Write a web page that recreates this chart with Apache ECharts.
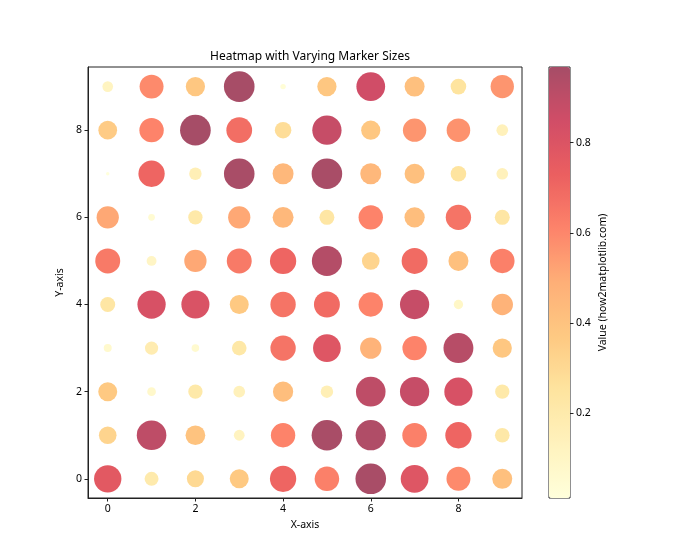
<!DOCTYPE html>
<html>
<head>
<meta charset="utf-8">
<script src="https://cdn.jsdelivr.net/npm/echarts@6/dist/echarts.min.js"></script>
<style>html,body{margin:0;padding:0;background:#fff}#c{width:700px;height:560px}</style>
</head>
<body>
<div id="c"></div>
<script>
// Grid columns (x) and rows (y)
const xCats = [0,1,2,3,4,5,6,7,8,9];
const yCats = [0,1,2,3,4,5,6,7,8,9];
// values by row (y = 0 .. 9), each row listed for x = 0 .. 9
const row0 = [0.77,0.20,0.30,0.37,0.71,0.62,0.96,0.79,0.59,0.41];
const row1 = [0.32,0.90,0.40,0.12,0.61,0.96,0.94,0.62,0.71,0.22];
const row2 = [0.37,0.077,0.21,0.14,0.42,0.16,0.90,0.88,0.82,0.21];
const row3 = [0.066,0.18,0.06,0.22,0.66,0.79,0.47,0.61,0.92,0.38];
const row4 = [0.23,0.82,0.81,0.37,0.66,0.69,0.61,0.88,0.09,0.47];
const row5 = [0.64,0.10,0.51,0.64,0.71,0.93,0.32,0.69,0.41,0.62];
const row6 = [0.51,0.046,0.21,0.51,0.45,0.23,0.61,0.42,0.66,0.23];
const row7 = [0.012,0.71,0.16,0.96,0.45,0.96,0.45,0.41,0.25,0.14];
const row8 = [0.36,0.61,0.968,0.68,0.28,0.88,0.38,0.56,0.57,0.14];
const row9 = [0.117,0.59,0.38,0.965,0.03,0.38,0.85,0.41,0.25,0.56];
const rows = [row0,row1,row2,row3,row4,row5,row6,row7,row8,row9];
const xTicks = [0,2,4,6,8];
const yTicks = [0,2,4,6,8];
const cbTicks = [0.2,0.4,0.6,0.8];

const pts = [];
rows.forEach((r, j) => r.forEach((v, i) => pts.push([xCats[i], yCats[j], v])));
const allV = rows.flat();
const vMin = Math.min(...allV), vMax = Math.max(...allV);

// YlOrRd colormap, drawn at alpha 0.7 over white (pre-blended)
const ylorrd = ['#ffffcc','#ffeda0','#fed976','#feb24c','#fd8d3c','#fc4e2a','#e31a1c','#bd0026','#800026'];
const blend = (h, a) => {
  const n = parseInt(h.slice(1), 16);
  const f = c => Math.round(c * a + 255 * (1 - a));
  return `rgb(${f((n>>16)&255)},${f((n>>8)&255)},${f(n&255)})`;
};
const cmap = ylorrd.map(c => blend(c, 0.7));
const font = 'Noto Sans';

const chart = echarts.init(document.getElementById('c'), null, {renderer: 'canvas'});
chart.setOption({
  backgroundColor: '#fff',
  animation: false,
  textStyle: {fontFamily: font},
  title: {
    text: 'Heatmap with Varying Marker Sizes',
    left: 305, top: 46, textAlign: 'center',
    textStyle: {fontFamily: font, fontSize: 12, fontWeight: 'normal', color: '#000'}
  },
  grid: [
    {left: 88, top: 67, width: 434, height: 431, show: true, borderColor: '#222', borderWidth: 1, backgroundColor: 'transparent'},
    {left: 549, top: 67, width: 21, height: 431, show: true, borderColor: '#222', borderWidth: 1, backgroundColor: 'transparent'}
  ],
  xAxis: [
    {
      type: 'value', gridIndex: 0, min: -0.45, max: 9.45,
      name: 'X-axis', nameLocation: 'middle', nameGap: 22,
      nameTextStyle: {fontFamily: font, fontSize: 10.5, color: '#000'},
      axisLine: {show: true, onZero: false, lineStyle: {color: '#222'}},
      axisTick: {show: true, length: 3.5, lineStyle: {color: '#222'}, customValues: xTicks},
      axisLabel: {fontFamily: font, fontSize: 10.5, color: '#000', margin: 6, customValues: xTicks},
      splitLine: {show: false}
    },
    {
      type: 'value', gridIndex: 1, min: 0, max: 1, show: false
    }
  ],
  yAxis: [
    {
      type: 'value', gridIndex: 0, min: -0.44, max: 9.45,
      name: 'Y-axis', nameLocation: 'middle', nameGap: 17,
      nameTextStyle: {fontFamily: font, fontSize: 10.5, color: '#000'},
      axisLine: {show: true, onZero: false, lineStyle: {color: '#222'}},
      axisTick: {show: true, length: 3.5, lineStyle: {color: '#222'}, customValues: yTicks},
      axisLabel: {fontFamily: font, fontSize: 10.5, color: '#000', margin: 6, customValues: yTicks},
      splitLine: {show: false}
    },
    {
      type: 'value', gridIndex: 1, min: vMin, max: vMax, position: 'right',
      name: 'Value (how2matplotlib.com)', nameLocation: 'middle', nameGap: 28, nameRotate: 90,
      nameTextStyle: {fontFamily: font, fontSize: 10.5, color: '#000'},
      axisLine: {show: false, onZero: false},
      axisTick: {show: true, length: 3.5, lineStyle: {color: '#222'}, customValues: cbTicks},
      axisLabel: {fontFamily: font, fontSize: 10.5, color: '#000', margin: 6, customValues: cbTicks,
        formatter: v => v.toFixed(1)},
      splitLine: {show: false}
    }
  ],
  visualMap: [{
    type: 'continuous', seriesIndex: 0, dimension: 2,
    min: vMin, max: vMax, calculable: false,
    left: 549, top: 67, itemWidth: 21, itemHeight: 431, padding: 0,
    text: null, showLabel: false,
    inRange: {color: cmap}
  }],
  series: [{
    type: 'scatter', xAxisIndex: 0, yAxisIndex: 0,
    data: pts,
    symbolSize: d => 31.2 * Math.sqrt(d[2]),
    itemStyle: {borderWidth: 0, opacity: 1},
    emphasis: {disabled: true}
  }]
});
</script>
</body>
</html>
